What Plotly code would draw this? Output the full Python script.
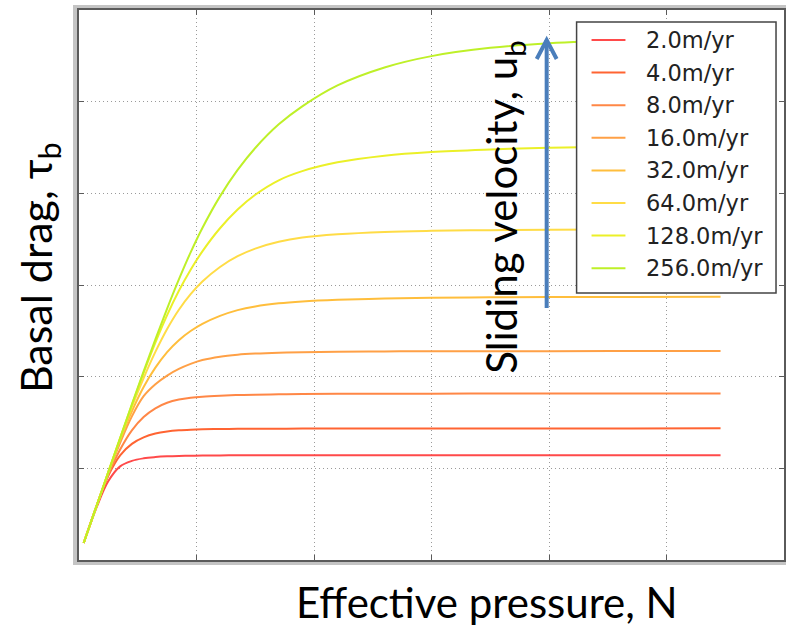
import plotly.graph_objects as go

# Effective pressure samples (shared by every curve)
effective_pressure = [0.04, 0.15, 0.25, 0.35, 0.45, 0.55, 0.65, 0.75, 0.85, 0.95,
                      1.05, 1.2, 1.35, 1.5, 1.7, 1.9, 2.2, 2.6, 3.0, 3.5,
                      4.0, 4.7, 5.46]

# Basal drag for each sliding velocity
drag_2 = [0.185, 0.576, 0.861, 1.021, 1.081, 1.109, 1.123, 1.131, 1.1355, 1.138,
          1.1395, 1.141, 1.1419, 1.1425, 1.1429, 1.1431, 1.1434, 1.1436, 1.1437, 1.1438,
          1.1438, 1.1438, 1.1438]
drag_4 = [0.185, 0.592, 0.922, 1.142, 1.267, 1.337, 1.379, 1.402, 1.415, 1.422,
          1.426, 1.4293, 1.4311, 1.4322, 1.433, 1.4334, 1.4337, 1.4345, 1.4349, 1.4354,
          1.4357, 1.4359, 1.436]
drag_8 = [0.185, 0.590, 0.930, 1.205, 1.415, 1.560, 1.655, 1.715, 1.750, 1.770,
          1.782, 1.7925, 1.7993, 1.8038, 1.8078, 1.8102, 1.8123, 1.8139, 1.8147, 1.8152,
          1.8155, 1.8158, 1.8162]
drag_16 = [0.185, 0.592, 0.952, 1.277, 1.567, 1.787, 1.917, 2.012, 2.084, 2.139,
           2.181, 2.2185, 2.2395, 2.2515, 2.2615, 2.2675, 2.2723, 2.2755, 2.2771, 2.2781,
           2.2786, 2.279, 2.279]
drag_32 = [0.185, 0.592, 0.958, 1.308, 1.623, 1.888, 2.098, 2.268, 2.398, 2.498,
           2.576, 2.663, 2.726, 2.7665, 2.8005, 2.8205, 2.8385, 2.8525, 2.8605, 2.8655,
           2.868, 2.870, 2.871]
drag_64 = [0.185, 0.592, 0.961, 1.325, 1.670, 1.985, 2.270, 2.520, 2.730, 2.900,
           3.038, 3.197, 3.314, 3.397, 3.471, 3.517, 3.553, 3.579, 3.591, 3.5985,
           3.6025, 3.606, 3.608]
drag_128 = [0.185, 0.592, 0.962, 1.330, 1.692, 2.042, 2.372, 2.672, 2.937, 3.167,
            3.367, 3.619, 3.823, 3.984, 4.142, 4.242, 4.338, 4.410, 4.450, 4.478,
            4.498, 4.512, 4.519]
drag_256 = [0.185, 0.592, 0.962, 1.331, 1.697, 2.057, 2.407, 2.743, 3.061, 3.356,
            3.622, 3.967, 4.255, 4.495, 4.753, 4.949, 5.177, 5.373, 5.497, 5.587,
            5.637, 5.670, 5.685]

velocity_labels = ["2.0m/yr", "4.0m/yr", "8.0m/yr", "16.0m/yr",
                   "32.0m/yr", "64.0m/yr", "128.0m/yr", "256.0m/yr"]
series = [drag_2, drag_4, drag_8, drag_16, drag_32, drag_64, drag_128, drag_256]
colors = ["#ff4a4a", "#ff6432", "#ff8746", "#ffa046",
          "#ffbe3c", "#ffdc46", "#ebf028", "#bef028"]

W, H = 786, 627
L, R, T, B = 79, 0, 10, 67
PW, PH = W - L - R, H - T - B


def fx(px):
    return (px - L) / PW


def fy(py):
    return (H - B - py) / PH


fig = go.Figure()
for vals, col, name in zip(series, colors, velocity_labels):
    fig.add_trace(go.Scatter(
        x=effective_pressure, y=vals, mode="lines", name=name,
        line=dict(color=col, width=2, shape="spline", smoothing=1.0),
        showlegend=False,
    ))

shapes = []
# soft outer frame
shapes.append(dict(type="rect", xref="paper", yref="paper",
                   x0=fx(75), x1=fx(800), y0=fy(563), y1=fy(7),
                   line=dict(color="#c4c4c4", width=4), layer="below"))

# legend box drawn by hand
lx0, lx1, ly0, ly1 = 578, 778, 22, 293
shapes.append(dict(type="rect", xref="paper", yref="paper",
                   x0=fx(lx0), x1=fx(lx1), y0=fy(ly1), y1=fy(ly0),
                   line=dict(color="#444444", width=1.5),
                   fillcolor="white", layer="above"))
annotations = []
row0, step = 40, 32.6
for i, (col, name) in enumerate(zip(colors, velocity_labels)):
    yy = row0 + i * step
    shapes.append(dict(type="line", xref="paper", yref="paper",
                       x0=fx(593), x1=fx(627), y0=fy(yy), y1=fy(yy),
                       line=dict(color=col, width=2), layer="above"))
    annotations.append(dict(text=name, xref="paper", yref="paper",
                            x=fx(646), y=fy(yy), xanchor="left", yanchor="middle",
                            showarrow=False,
                            font=dict(family="DejaVu Sans", size=22.5, color="#222222")))

# sliding velocity arrow
arrow_col = "#4a7ebb"
shapes.append(dict(type="line", xref="paper", yref="paper",
                   x0=fx(548), x1=fx(548), y0=fy(308), y1=fy(40),
                   line=dict(color=arrow_col, width=4), layer="above"))
shapes.append(dict(type="path", xref="paper", yref="paper",
                   path=f"M {fx(538)},{fy(59)} L {fx(548)},{fy(40)} L {fx(558)},{fy(59)}",
                   line=dict(color=arrow_col, width=4), layer="above"))

annotations.append(dict(text="Effective pressure, N", xref="paper", yref="paper",
                        x=fx(488), y=fy(602), showarrow=False,
                        font=dict(family="Lato", size=42, color="black"),
                        xanchor="center", yanchor="middle"))
annotations.append(dict(text="Basal drag, τ<sub>b</sub>", xref="paper", yref="paper",
                        x=fx(38), y=fy(268), showarrow=False,
                        font=dict(family="Lato", size=43, color="black"),
                        textangle=-90, xanchor="center", yanchor="middle"))
annotations.append(dict(text="Sliding velocity, u<sub>b</sub>", xref="paper", yref="paper",
                        x=fx(505), y=fy(207), showarrow=False,
                        font=dict(family="Lato", size=42, color="black"),
                        textangle=-90, xanchor="center", yanchor="middle"))

axis_common = dict(range=[0, 6], dtick=1, tick0=0, showticklabels=False,
                   showgrid=True, gridcolor="#9a9a9a", gridwidth=1, griddash="1px,3px",
                   zeroline=False, showline=True, linecolor="#5a5a5a", linewidth=2,
                   mirror="ticks", ticks="inside", ticklen=5, tickcolor="#5a5a5a")

fig.update_layout(
    width=W, height=H,
    margin=dict(l=L, r=R, t=T, b=B),
    paper_bgcolor="white", plot_bgcolor="white",
    xaxis=axis_common, yaxis=axis_common,
    shapes=shapes, annotations=annotations,
    showlegend=False,
)

fig.write_html("out.html")
